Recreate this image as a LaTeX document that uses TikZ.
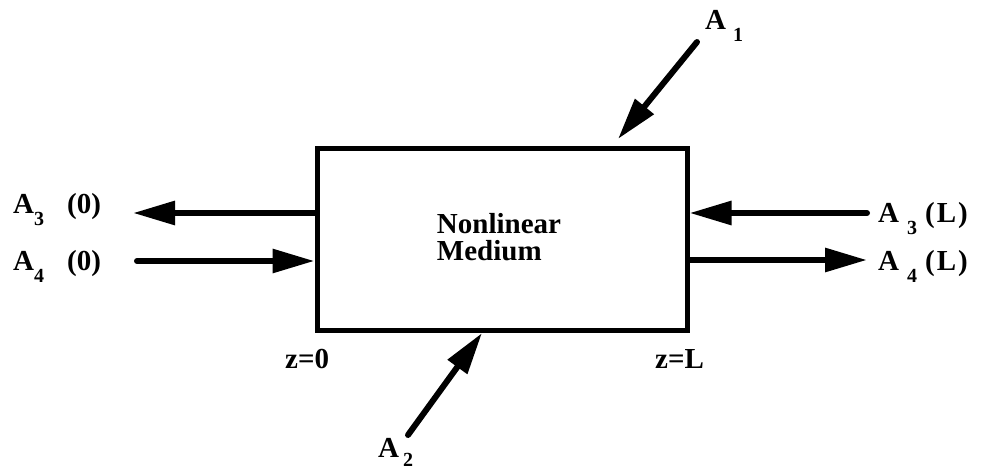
\documentclass[tikz,border=0pt]{standalone}
\usepackage{fontspec}
\setmainfont{Liberation Serif}
\usetikzlibrary{arrows.meta}
\begin{document}
\begin{tikzpicture}[x=1pt,y=-1pt,
  every node/.style={font=\fontsize{29}{27}\selectfont\bfseries, inner sep=0pt},
  beam/.style={line width=6pt, line cap=round, -{Triangle[length=42pt,width=23pt]}},
  lab/.style={anchor=base west},
]
\newcommand{\sbx}[2][-12pt]{\raisebox{#1}{\fontsize{20}{20}\selectfont #2}}
\useasboundingbox (0,0) rectangle (982,470);

% medium
\node[draw, line width=5pt, minimum width=370pt, minimum height=181pt] (box) at (502,239.5) {};
\node[align=left] (med) at (499,237) {Nonlinear\\Medium};

% labels
\node[lab] (l30) at (13,214) {A\sbx{3}\hspace{23pt}(0)};
\node[lab] (l40) at (13,271) {A\sbx{4}\hspace{23pt}(0)};
\node[lab] (l3L) at (878,223) {A\hspace{8pt}\sbx{3}\hspace{8pt}(\hspace{2pt}L\hspace{2pt})};
\node[lab] (l4L) at (878,271) {A\hspace{8pt}\sbx{4}\hspace{8pt}(\hspace{2pt}L\hspace{2pt})};
\node[lab] (l1) at (705,30) {A\hspace{7pt}\sbx{1}};
\node[lab] (l2) at (378,457) {A\hspace{4pt}\sbx[-9pt]{2}};
\node[lab] (z0) at (285,368) {z=0};
\node[lab] (zL) at (655,368) {z=L};

% free ends of the beams
\coordinate (e30) at (133,213);
\coordinate (e40) at (137,261);
\coordinate (e3L) at (867,213);
\coordinate (e4L) at (867,260);
\coordinate (e1) at (697,42);
\coordinate (h1) at (618,139);
\coordinate (e2) at (408,435);
\coordinate (h2) at (482,333);

% beams
\draw[beam] (box.west |- e30) -- (e30);
\draw[beam] (e40) -- (box.west |- e40);
\draw[beam] (e3L) -- (box.east |- e3L);
\draw[beam] (box.east |- e4L) -- (e4L);
\draw[beam] (e1) -- (h1);
\draw[beam] (e2) -- (h2);
\end{tikzpicture}
\end{document}
